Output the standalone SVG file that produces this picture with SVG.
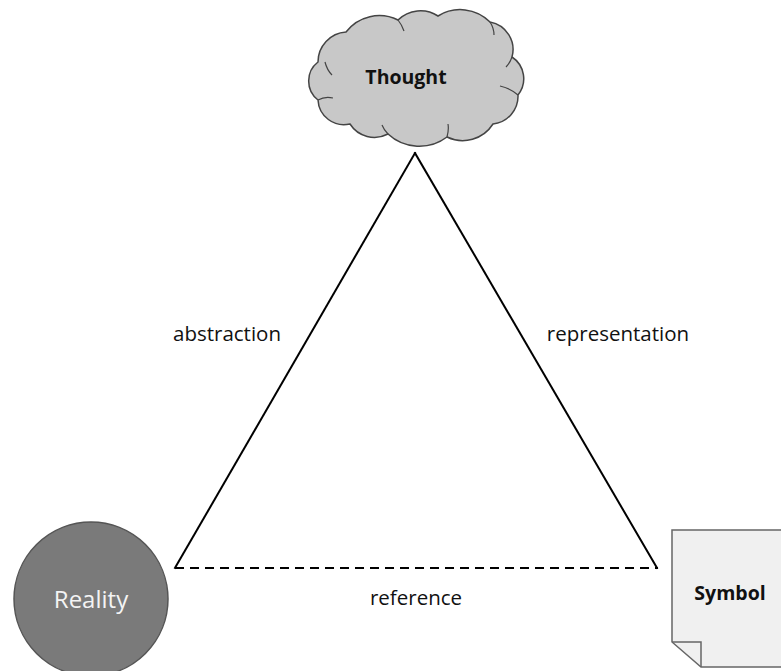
<svg xmlns="http://www.w3.org/2000/svg" width="781" height="671" viewBox="0 0 781 671">
<style>
.edge{stroke:#000;stroke-width:2;fill:none;stroke-linecap:square}
.dash{stroke-dasharray:9 6;stroke-linecap:butt}
.lbl{font-family:"Open Sans","Liberation Sans",sans-serif;font-size:20.5px;fill:#111;text-anchor:middle}
.bold{font-weight:bold;font-size:19.5px}
</style>
<rect width="781" height="671" fill="#fff"/>
<g id="connectors">
<line class="edge" x1="415" y1="153" x2="175" y2="568"/>
<line class="edge" x1="415" y1="153" x2="657" y2="568"/>
<line class="edge dash" x1="175" y1="568" x2="658" y2="568"/>
<text class="lbl" x="227" y="341">abstraction</text>
<text class="lbl" x="618" y="341">representation</text>
<text class="lbl" x="416" y="605">reference</text>
</g>
<g id="thought">
<path d="M318,100 A24,24 0 0 1 318,62 A30,30 0 0 1 346,32 A42,42 0 0 1 398,20 A32,32 0 0 1 438,16 A42,42 0 0 1 490,22 A28,28 0 0 1 512,57 A26,26 0 0 1 518,95 A28,28 0 0 1 493,124 A36,36 0 0 1 447,137 A46,46 0 0 1 388,134 A29,29 0 0 1 350,124 A26,26 0 0 1 318,100 Z" fill="#c8c8c8" stroke="#444" stroke-width="1.5"/>
<path d="M318,100 Q325,96 333,98 M325,62 Q327,70 332,75 M398,20 Q402,25 404,31 M490,22 Q494,28 494,35 M512,57 Q510,63 506,67 M518,95 Q510,88 500,86 M447,137 Q449,130 448,124 M388,134 Q384,130 382,125" fill="none" stroke="#444" stroke-width="1.2"/>
<text class="lbl bold" x="406" y="84">Thought</text>
</g>
<g id="reality">
<circle cx="91" cy="599" r="77" fill="#7a7a7a" stroke="#555" stroke-width="1.5"/>
<text class="lbl" x="91" y="608" style="font-size:24px;fill:#f4f4f4">Reality</text>
</g>
<g id="symbol">
<path d="M672,530 H790 V667 H701 L672,642 Z" fill="#f0f0f0" stroke="#666" stroke-width="1.5"/>
<path d="M672,642 H701 V667" fill="none" stroke="#666" stroke-width="1.5"/>
<text class="lbl bold" x="730" y="600">Symbol</text>
</g>
</svg>
